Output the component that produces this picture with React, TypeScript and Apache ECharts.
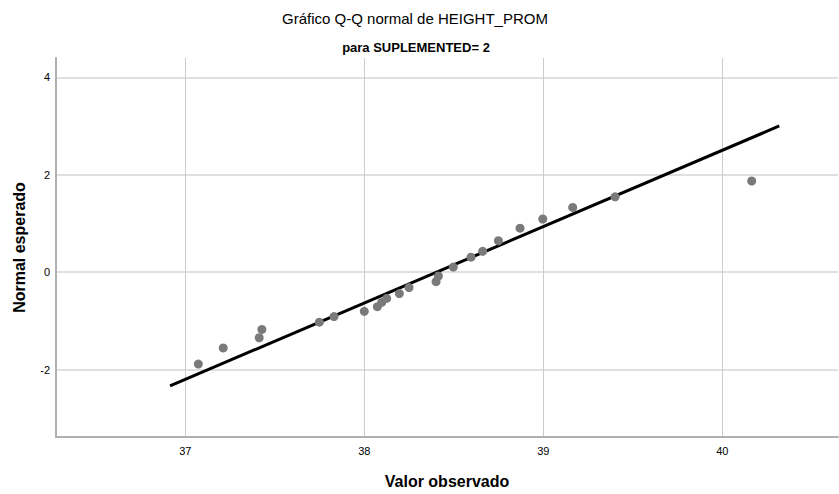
import React, { useEffect, useRef } from "react";
import * as echarts from "echarts";

// Observed values (x) and expected normal values (y)
const observed = [
  37.073, 37.212, 37.413, 37.428, 37.749, 37.831, 38.0, 38.073, 38.097, 38.125,
  38.196, 38.25, 38.401, 38.414, 38.497, 38.596, 38.661, 38.749, 38.87, 38.997,
  39.164, 39.401, 40.164,
];
const expected = [
  -1.884, -1.553, -1.344, -1.174, -1.025, -0.91, -0.802, -0.707, -0.619, -0.538,
  -0.437, -0.315, -0.193, -0.077, 0.106, 0.309, 0.43, 0.646, 0.904, 1.092,
  1.33, 1.547, 1.872,
];
// Reference line end points
const refLineX = [36.915, 40.318];
const refLineY = [-2.331, 3.001];

const xTicks = [37, 38, 39, 40];
const yTicks = [-2, 0, 2, 4];

const title = "Gráfico Q-Q normal de HEIGHT_PROM";
const subtitle = "para SUPLEMENTED= 2";
const xName = "Valor observado";
const yName = "Normal esperado";

const FONT = "'Liberation Sans', Arial, sans-serif";

export default function App() {
  const ref = useRef<HTMLDivElement>(null);
  useEffect(() => {
    if (!ref.current) return;
    const chart = echarts.init(ref.current, null, { renderer: "svg" });
    const points = observed.map((x, i) => [x, expected[i]]);
    const line = refLineX.map((x, i) => [x, refLineY[i]]);
    chart.setOption({
      animation: false,
      backgroundColor: "#ffffff",
      textStyle: { fontFamily: FONT },
      graphic: [
        {
          type: "text",
          x: 415,
          y: 18,
          style: {
            text: title,
            fontFamily: FONT,
            fontSize: 15,
            fill: "#000",
            textAlign: "center",
            textVerticalAlign: "middle",
          },
        },
        {
          type: "text",
          x: 416,
          y: 47,
          style: {
            text: subtitle,
            fontFamily: FONT,
            fontSize: 13,
            fontWeight: "bold",
            fill: "#000",
            textAlign: "center",
            textVerticalAlign: "middle",
          },
        },
      ],
      grid: { left: 56, right: 1, top: 58, bottom: 53, containLabel: false },
      xAxis: {
        type: "value",
        min: 36.278,
        max: 40.646,
        name: xName,
        nameLocation: "middle",
        nameGap: 36,
        nameTextStyle: { fontSize: 16, fontWeight: "bold", color: "#000", fontFamily: FONT },
        axisLine: { show: true, onZero: false, lineStyle: { color: "#b0b0b0", width: 2 } },
        axisTick: { show: false, customValues: xTicks },
        axisLabel: { customValues: xTicks, fontSize: 11, color: "#000", margin: 8, fontFamily: FONT },
        splitLine: { show: true, lineStyle: { color: "#cccccc", width: 1 } },
      },
      yAxis: {
        type: "value",
        min: -3.381,
        max: 4.396,
        name: yName,
        nameLocation: "middle",
        nameGap: 29,
        nameTextStyle: { fontSize: 16, fontWeight: "bold", color: "#000", fontFamily: FONT },
        axisLine: { show: true, onZero: false, lineStyle: { color: "#b0b0b0", width: 2 } },
        axisTick: { show: false, customValues: yTicks },
        axisLabel: { customValues: yTicks, fontSize: 11, color: "#000", margin: 6, fontFamily: FONT },
        splitLine: { show: true, lineStyle: { color: "#d6d6d6", width: 1.5 } },
      },
      series: [
        {
          type: "line",
          data: line,
          symbol: "none",
          lineStyle: { color: "#000", width: 3 },
          z: 2,
        },
        {
          type: "scatter",
          data: points,
          symbol: "circle",
          symbolSize: 9,
          itemStyle: { color: "#7a7a7a", opacity: 1 },
          z: 3,
        },
      ],
    });
    return () => chart.dispose();
  }, []);
  return (
    <div
      ref={ref}
      style={{ position: "fixed", left: 0, top: 0, width: 839, height: 494 }}
    />
  );
}
